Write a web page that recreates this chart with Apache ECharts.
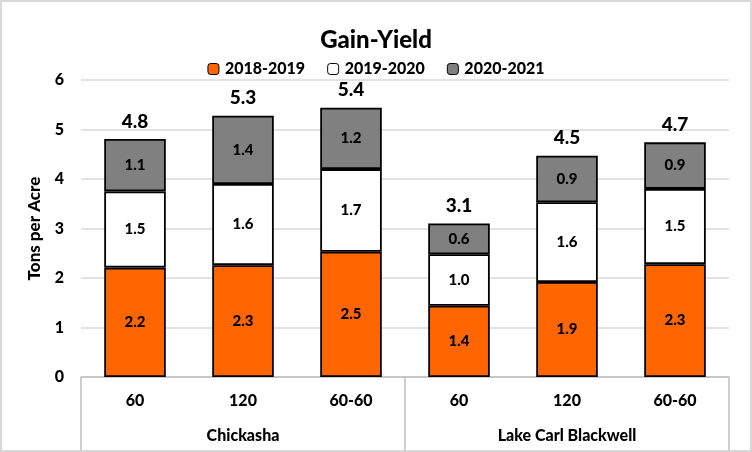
<!DOCTYPE html>
<html>
<head>
<meta charset="utf-8">
<script src="https://cdn.jsdelivr.net/npm/echarts@6/dist/echarts.min.js"></script>
<style>
html,body{margin:0;padding:0;background:#fff;}
#c{width:752px;height:452px;box-sizing:border-box;border:2px solid #d9d9d9;}
</style>
</head>
<body>
<div id="c"></div>
<script>
const treatments = ['60', '120', '60-60', '60', '120', '60-60'];
const sites = ['Chickasha', 'Lake Carl Blackwell'];
const seriesNames = ['2018-2019', '2019-2020', '2020-2021'];
const y2018 = [2.21, 2.26, 2.53, 1.44, 1.92, 2.28];
const y2019 = [1.54, 1.64, 1.67, 1.04, 1.61, 1.52];
const y2020 = [1.06, 1.38, 1.24, 0.62, 0.94, 0.94];
const yTicks = [0, 1, 2, 3, 4, 5, 6];

const totals = y2018.map((v, i) => v + y2019[i] + y2020[i]);
const FONT = 'Lato';
const colors = ['#ff6600', '#ffffff', '#808080'];

const chart = echarts.init(document.getElementById('c'));
const mk = (name, data, color) => ({
  name: name,
  type: 'bar',
  stack: 'total',
  data: data,
  barWidth: '57%',
  itemStyle: { color: color, borderColor: '#000', borderWidth: 1.8 },
  label: {
    show: true, position: 'inside', color: '#000', fontFamily: FONT,
    fontWeight: 900, fontSize: 15,
    formatter: p => p.value.toFixed(1)
  }
});
chart.setOption({
  animation: false,
  textStyle: { fontFamily: FONT },
  title: {
    text: 'Gain-Yield', left: 'center', top: 21,
    textStyle: { fontFamily: FONT, fontSize: 24, fontWeight: 900, color: '#000' }
  },
  legend: {
    data: seriesNames, top: 54, left: 'center', itemWidth: 11, itemHeight: 11,
    itemGap: 22,
    textStyle: { fontFamily: FONT, fontSize: 16, fontWeight: 900, color: '#000', padding: [0, 0, 0, 1] },
    itemStyle: { borderColor: '#000', borderWidth: 1 }
  },
  grid: { left: 79, right: 21, top: 78, bottom: 73, containLabel: false },
  xAxis: [
    {
      type: 'category', data: treatments, position: 'bottom',
      axisLine: { show: true, lineStyle: { color: '#bfbfbf', width: 1.5 } },
      axisTick: { show: false },
      axisLabel: { margin: 16, color: '#000', fontFamily: FONT, fontSize: 16, fontWeight: 900 }
    },
    {
      type: 'category', data: sites, position: 'bottom',
      axisLine: { show: false },
      axisTick: { show: true, length: 75, lineStyle: { color: '#bfbfbf', width: 1.5 } },
      axisLabel: { margin: 51, color: '#000', fontFamily: FONT, fontSize: 16, fontWeight: 900 }
    }
  ],
  yAxis: {
    type: 'value', min: yTicks[0], max: yTicks[yTicks.length - 1], interval: 1,
    name: 'Tons per Acre', nameLocation: 'middle', nameGap: 38, nameRotate: 90,
    nameTextStyle: { fontFamily: FONT, fontSize: 17, fontWeight: 900, color: '#000' },
    axisLine: { show: false }, axisTick: { show: false },
    axisLabel: { color: '#000', fontFamily: FONT, fontSize: 16, fontWeight: 900, margin: 17 },
    splitLine: { lineStyle: { color: '#d9d9d9', width: 1.5 } }
  },
  series: [
    mk(seriesNames[0], y2018, colors[0]),
    mk(seriesNames[1], y2019, colors[1]),
    mk(seriesNames[2], y2020, colors[2]),
    {
      name: 'Total', type: 'bar', stack: 'total', data: totals.map(() => 0),
      barWidth: '57%',
      itemStyle: { color: 'transparent', borderWidth: 0 },
      label: {
        show: true, position: 'top', distance: 8, color: '#000', fontFamily: FONT,
        fontSize: 19, fontWeight: 900,
        formatter: p => totals[p.dataIndex].toFixed(1)
      }
    }
  ]
});
</script>
</body>
</html>
